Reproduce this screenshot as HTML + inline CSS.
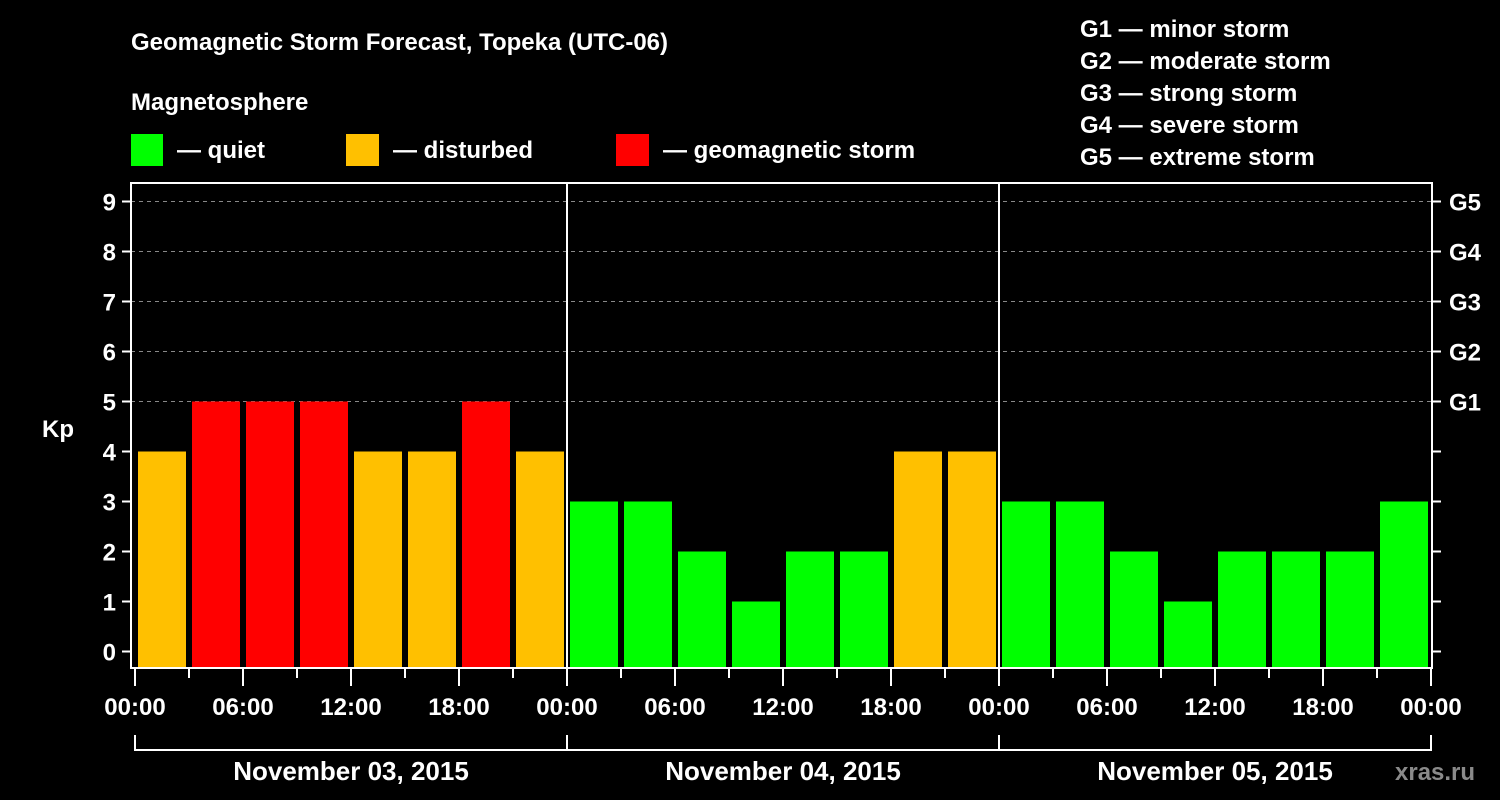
<!DOCTYPE html>
<html><head><meta charset="utf-8"><style>
html,body{margin:0;padding:0;background:#000;}
svg{display:block;font-family:"Liberation Sans",Arial,sans-serif;font-weight:bold;}
</style></head><body>
<svg id="chart" width="1500" height="800" viewBox="0 0 1500 800">
<rect width="1500" height="800" fill="#000"/>
<text x="131" y="50" fill="#fff" font-size="24">Geomagnetic Storm Forecast, Topeka (UTC-06)</text>
<text x="131" y="110" fill="#fff" font-size="24">Magnetosphere</text>
<g><rect x="131" y="134" width="32" height="32" fill="#00ff00"/><text x="177" y="158" fill="#fff" font-size="24">— quiet</text></g>
<g><rect x="346" y="134" width="33" height="32" fill="#ffc000"/><text x="393" y="158" fill="#fff" font-size="24">— disturbed</text></g>
<g><rect x="616" y="134" width="33" height="32" fill="#ff0000"/><text x="663" y="158" fill="#fff" font-size="24">— geomagnetic storm</text></g>
<g fill="#fff" font-size="24">
<text x="1080" y="37">G1 — minor storm</text>
<text x="1080" y="69">G2 — moderate storm</text>
<text x="1080" y="101">G3 — strong storm</text>
<text x="1080" y="133">G4 — severe storm</text>
<text x="1080" y="165">G5 — extreme storm</text>
</g>
<text x="42" y="437" fill="#fff" font-size="24">Kp</text>
<text x="1395" y="780" fill="#8a8a8a" font-size="24">xras.ru</text>
<g id="plot"></g>
</svg>
<script>
const days = ["November 03, 2015", "November 04, 2015", "November 05, 2015"];
const kpValues = [4,5,5,5,4,4,5,4, 3,3,2,1,2,2,4,4, 3,3,2,1,2,2,2,3];
const yTicks = [0,1,2,3,4,5,6,7,8,9];
const gLabels = ["G1","G2","G3","G4","G5"];
const gLevels = [5,6,7,8,9];
const xTickLabels = ["00:00","06:00","12:00","18:00"];

const NS = "http://www.w3.org/2000/svg";
const plot = document.getElementById("plot");
const X0 = 135, DAYW = 432, TOP = 183, BOT = 668, LEFT = 131, RIGHT = 1432;
const xScale = h => X0 + h * DAYW / 24;
const yScale = v => 651.5 - v * 50;
function mk(tag, attrs, parent) {
  const e = document.createElementNS(NS, tag);
  for (const k in attrs) e.setAttribute(k, attrs[k]);
  (parent || plot).appendChild(e);
  return e;
}
// gridlines
yTicks.forEach(v => {
  if (v >= 5) {
    const g = mk("line", {x1: LEFT, x2: RIGHT, y1: yScale(v), y2: yScale(v), stroke: "#888", "stroke-width": 1, "stroke-dasharray": "4,4"});
    
    
  }
});
// bars
kpValues.forEach((v, i) => {
  const x = xScale(i * 3) + 3, w = xScale(i * 3 + 3) - xScale(i * 3) - 6;
  const y = yScale(v);
  const color = v >= 5 ? "#ff0000" : (v >= 4 ? "#ffc000" : "#00ff00");
  const r = mk("rect", {x: x, y: y, width: w, height: BOT - y, fill: color});
  
  
});
// day separators
for (let d = 1; d < days.length; d++) {
  const l = mk("line", {x1: xScale(d * 24), x2: xScale(d * 24), y1: TOP, y2: BOT, stroke: "#fff", "stroke-width": 2});
  
  
}
// frame
const fr = mk("rect", {x: LEFT, y: TOP, width: RIGHT - LEFT, height: BOT - TOP, fill: "none", stroke: "#fff", "stroke-width": 2});


// y ticks + labels
yTicks.forEach(v => {
  const y = yScale(v);
  mk("line", {x1: 122, x2: LEFT, y1: y, y2: y, stroke: "#fff", "stroke-width": 2});
  mk("line", {x1: RIGHT, x2: 1441, y1: y, y2: y, stroke: "#fff", "stroke-width": 2});
  const t = mk("text", {x: 116, y: y + 9, fill: "#fff", "font-size": 24, "text-anchor": "end"});
  t.textContent = v;
  
  
});
gLabels.forEach((g, i) => {
  const t = mk("text", {x: 1449, y: yScale(gLevels[i]) + 9, fill: "#fff", "font-size": 24});
  t.textContent = g;
  
  
});
// x ticks
for (let h = 0; h <= days.length * 24; h += 3) {
  const x = xScale(h);
  const major = h % 6 === 0;
  mk("line", {x1: x, x2: x, y1: BOT, y2: major ? 686 : 678, stroke: "#fff", "stroke-width": 2});
  if (major) {
    const t = mk("text", {x: x, y: 715, fill: "#fff", "font-size": 24, "text-anchor": "middle"});
    t.textContent = xTickLabels[(h % 24) / 6];
    
    
  }
}
// day bracket
mk("line", {x1: X0, x2: xScale(days.length * 24), y1: 750, y2: 750, stroke: "#fff", "stroke-width": 2});
for (let d = 0; d <= days.length; d++) {
  mk("line", {x1: xScale(d * 24), x2: xScale(d * 24), y1: 735, y2: 751, stroke: "#fff", "stroke-width": 2});
}
days.forEach((d, i) => {
  const t = mk("text", {x: xScale(i * 24 + 12), y: 780, fill: "#fff", "font-size": 26, "text-anchor": "middle"});
  t.textContent = d;
  
  
});
</script>
</body></html>
